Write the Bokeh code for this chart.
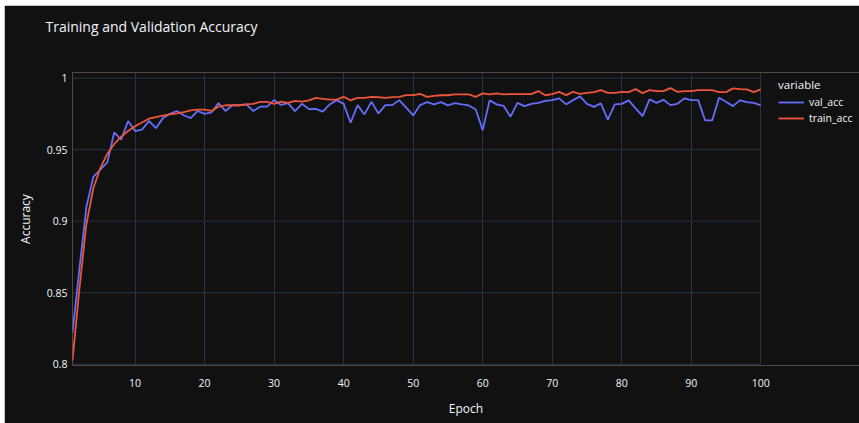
from bokeh.plotting import figure
from bokeh.models import Legend, LegendItem, FixedTicker, Range1d, ColumnDataSource, Title
from bokeh.embed import file_html
from bokeh.resources import INLINE

epochs = list(range(1, 101))
val_acc = [0.822, 0.867, 0.910, 0.931, 0.936, 0.941, 0.962, 0.957, 0.970, 0.963,
           0.964, 0.970, 0.965, 0.972, 0.975, 0.977, 0.974, 0.972, 0.977, 0.975,
           0.976, 0.9825, 0.977, 0.981, 0.981, 0.9816, 0.977, 0.980, 0.980, 0.9846,
           0.9812, 0.9825, 0.9769, 0.982, 0.9783, 0.9785, 0.9765, 0.9816, 0.9846, 0.982,
           0.9688, 0.9811, 0.9746, 0.9835, 0.9753, 0.9811, 0.9811, 0.9846, 0.9793, 0.9739,
           0.9811, 0.9832, 0.9816, 0.9832, 0.9809, 0.9825, 0.9816, 0.9809, 0.978, 0.9636,
           0.9844, 0.9816, 0.9806, 0.973, 0.9827, 0.9804, 0.982, 0.9827, 0.984, 0.9846,
           0.9858, 0.9816, 0.9846, 0.9872, 0.982, 0.9799, 0.9823, 0.9709, 0.9816, 0.982,
           0.9844, 0.9788, 0.9734, 0.9851, 0.9827, 0.9848, 0.9811, 0.982, 0.9858, 0.9846,
           0.9846, 0.9704, 0.9704, 0.9862, 0.9835, 0.9804, 0.9844, 0.9832, 0.9827, 0.9809]
train_acc = [0.8025, 0.853, 0.898, 0.923, 0.937, 0.947, 0.954, 0.959, 0.963, 0.9664,
             0.969, 0.9716, 0.9727, 0.9737, 0.9746, 0.9753, 0.9762, 0.9774, 0.978, 0.978,
             0.977, 0.980, 0.981, 0.981, 0.981, 0.9816, 0.982, 0.9834, 0.9834, 0.982,
             0.9835, 0.9827, 0.984, 0.9835, 0.9844, 0.9862, 0.9855, 0.985, 0.985, 0.9869,
             0.9844, 0.9862, 0.9862, 0.9869, 0.9867, 0.9862, 0.9867, 0.9869, 0.9881, 0.9881,
             0.989, 0.9869, 0.9876, 0.988, 0.988, 0.9886, 0.9886, 0.9886, 0.9869, 0.9893,
             0.9886, 0.9893, 0.9886, 0.9888, 0.9888, 0.9888, 0.9888, 0.9909, 0.988, 0.9888,
             0.9904, 0.9881, 0.9904, 0.989, 0.9897, 0.9902, 0.9916, 0.9897, 0.9897, 0.9904,
             0.9902, 0.9923, 0.9895, 0.9916, 0.9909, 0.9909, 0.993, 0.9904, 0.9909, 0.9909,
             0.9916, 0.9916, 0.9916, 0.9902, 0.9902, 0.9928, 0.9923, 0.9921, 0.9902, 0.9921]

x_ticks = [10, 20, 30, 40, 50, 60, 70, 80, 90, 100]
y_ticks = [0.8, 0.85, 0.9, 0.95, 1.0]
y_tick_labels = ["0.8", "0.85", "0.9", "0.95", "1"]

BG = "#111111"
GRID = "#283442"
TXT = "#f2f5fa"
FONT = "Open Sans"

src = ColumnDataSource(dict(epoch=epochs, val=val_acc, train=train_acc))
grid_src = ColumnDataSource(dict(x0=[epochs[0]] * len(y_ticks), x1=[epochs[-1]] * len(y_ticks),
                                 y=y_ticks))

# frame runs to the right edge so the legend can sit inside it; x range is padded past 100
p = figure(width=855, height=418, output_backend="svg", toolbar_location=None,
           x_range=Range1d(1, 114.2), y_range=Range1d(0.7991, 1.0039),
           min_border_left=68, min_border_right=0, min_border_top=67, min_border_bottom=58,
           title="Training and Validation Accuracy")
p.margin = (5, 0, 0, 4)
p.background_fill_color = BG
p.border_fill_color = BG
p.outline_line_color = None

# spacer (closer to the frame) pushes the real title up
spacer = Title(text=" ", text_font_size="14px", text_font=FONT, standoff=16, text_color=BG)
p.add_layout(spacer, "above")

p.title.text_color = TXT
p.title.text_font = FONT
p.title.text_font_size = "14px"
p.title.text_font_style = "normal"
p.title.align = "left"
p.title.offset = -27
p.title.standoff = 0

p.ygrid.visible = False
p.segment(x0="x0", x1="x1", y0="y", y1="y", source=grid_src, line_color=GRID, line_width=1)
p.xgrid.grid_line_color = GRID
p.xgrid.grid_line_width = 1

r_val = p.line("epoch", "val", source=src, line_color="#636efa", line_width=1.8)
r_train = p.line("epoch", "train", source=src, line_color="#EF553B", line_width=1.8)

p.xaxis.ticker = FixedTicker(ticks=x_ticks)
p.yaxis.ticker = FixedTicker(ticks=y_ticks)
p.yaxis.major_label_overrides = {t: l for t, l in zip(y_ticks, y_tick_labels)}
for ax in (p.xaxis, p.yaxis):
    ax.axis_line_color = None
    ax.major_tick_line_color = None
    ax.minor_tick_line_color = None
    ax.major_tick_out = 0
    ax.major_tick_in = 0
    ax.major_label_text_color = TXT
    ax.major_label_text_font = FONT
    ax.major_label_text_font_size = "10.5px"
    ax.axis_label_text_color = TXT
    ax.axis_label_text_font = FONT
    ax.axis_label_text_font_size = "12px"
    ax.axis_label_text_font_style = "normal"
p.xaxis.axis_label = "Epoch"
p.yaxis.axis_label = "Accuracy"
p.xaxis.major_label_standoff = 13
p.yaxis.major_label_standoff = 5
p.xaxis.axis_label_standoff = 10
p.yaxis.axis_label_standoff = 10

legend = Legend(items=[LegendItem(label="val_acc", renderers=[r_val]),
                       LegendItem(label="train_acc", renderers=[r_train])],
                location=(706, 239), title="variable")
legend.title_text_color = TXT
legend.title_text_font = FONT
legend.title_text_font_size = "11.5px"
legend.title_text_font_style = "normal"
legend.title_standoff = 2
legend.label_text_color = TXT
legend.label_text_font = FONT
legend.label_text_font_size = "10.5px"
legend.background_fill_alpha = 0
legend.border_line_alpha = 0
legend.padding = 0
legend.margin = 0
legend.spacing = 0
legend.glyph_width = 26
legend.glyph_height = 16
legend.label_standoff = 5
legend.label_height = 16
p.add_layout(legend)

open("out.html", "w").write(file_html(p, INLINE))
